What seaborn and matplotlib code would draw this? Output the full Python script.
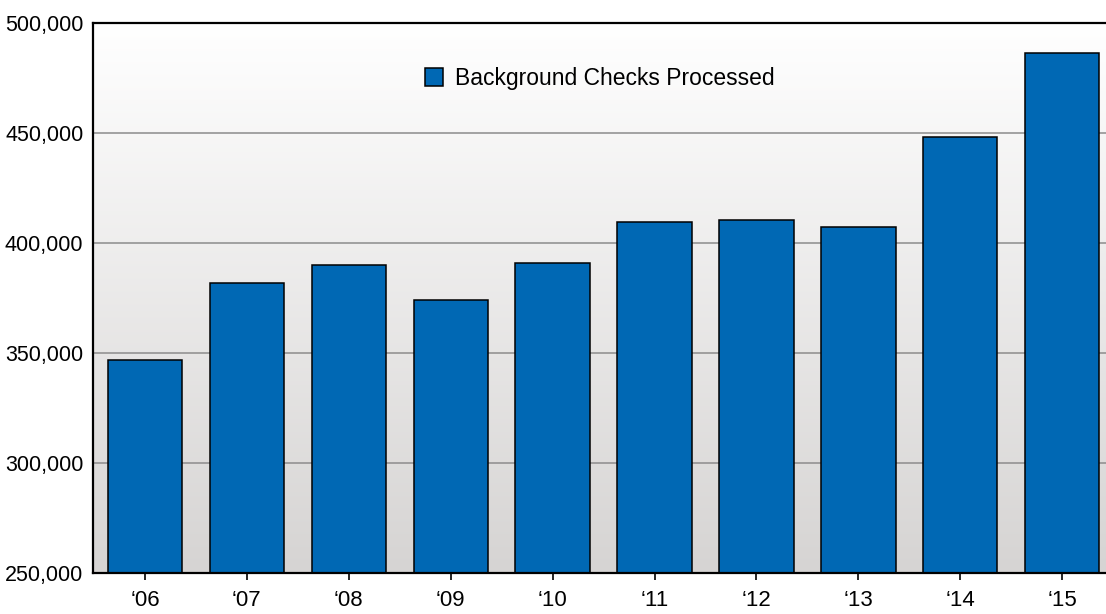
import numpy as np
import pandas as pd
import matplotlib
matplotlib.use("Agg")
import matplotlib.pyplot as plt
import matplotlib.ticker as mticker
import seaborn as sns

# values
years = ["\u201806", "\u201807", "\u201808", "\u201809", "\u201810",
         "\u201811", "\u201812", "\u201813", "\u201814", "\u201815"]
checks = [346600, 382000, 390200, 373900, 391100,
          409700, 410600, 407400, 448300, 486400]
series_name = "Background Checks Processed"
y_ticks = [250000, 300000, 350000, 400000, 450000, 500000]

sns.set_style("white")
plt.rcParams["font.family"] = ["Liberation Sans", "DejaVu Sans"]
plt.rcParams["text.color"] = "black"
plt.rcParams["xtick.color"] = "black"
plt.rcParams["ytick.color"] = "black"

df = pd.DataFrame({"year": years, "checks": checks})

fig = plt.figure(figsize=(11.06, 6.14), dpi=100)
ax = fig.add_axes([0.0841, 0.0668, 0.9159, 0.8957])

# soft gray gradient behind the bars
grad = np.linspace(0, 1, 256).reshape(-1, 1)
cmap = matplotlib.colors.LinearSegmentedColormap.from_list("bg", ["#ffffff", "#d6d4d3"])
ax.imshow(grad, cmap=cmap, aspect="auto", extent=[0, 1, 0, 1],
          transform=ax.transAxes, zorder=0)

sns.barplot(data=df, x="year", y="checks", color="#0068b4", saturation=1,
            width=0.73, edgecolor="black", linewidth=1.1,
            label=series_name, ax=ax, zorder=3)

ax.set_ylim(250000, 500000)
ax.set_xlim(-0.51, 9.43)
ax.set_yticks(y_ticks)
ax.yaxis.set_major_formatter(mticker.FuncFormatter(lambda v, p: f"{int(v):,}"))
for t in y_ticks[1:-1]:
    ax.axhline(t, color="#8c8c8c", lw=1.1, zorder=1)

ax.set_xlabel("")
ax.set_ylabel("")
ax.tick_params(axis="y", labelsize=15.5, length=0, pad=7)
ax.tick_params(axis="x", labelsize=16, length=5, width=1.2, color="black",
               direction="out", bottom=True, pad=7)

for side in ["left", "bottom", "top"]:
    ax.spines[side].set_visible(True)
    ax.spines[side].set_color("black")
    ax.spines[side].set_linewidth(1.6)
    ax.spines[side].set_zorder(5)
ax.spines["right"].set_visible(False)

leg = ax.legend(loc="upper center", bbox_to_anchor=(0.5, 0.958), frameon=False,
                fontsize=16.5, handlelength=0.8, handleheight=0.8, handletextpad=0.5)

fig.savefig("out.png", dpi=100)
